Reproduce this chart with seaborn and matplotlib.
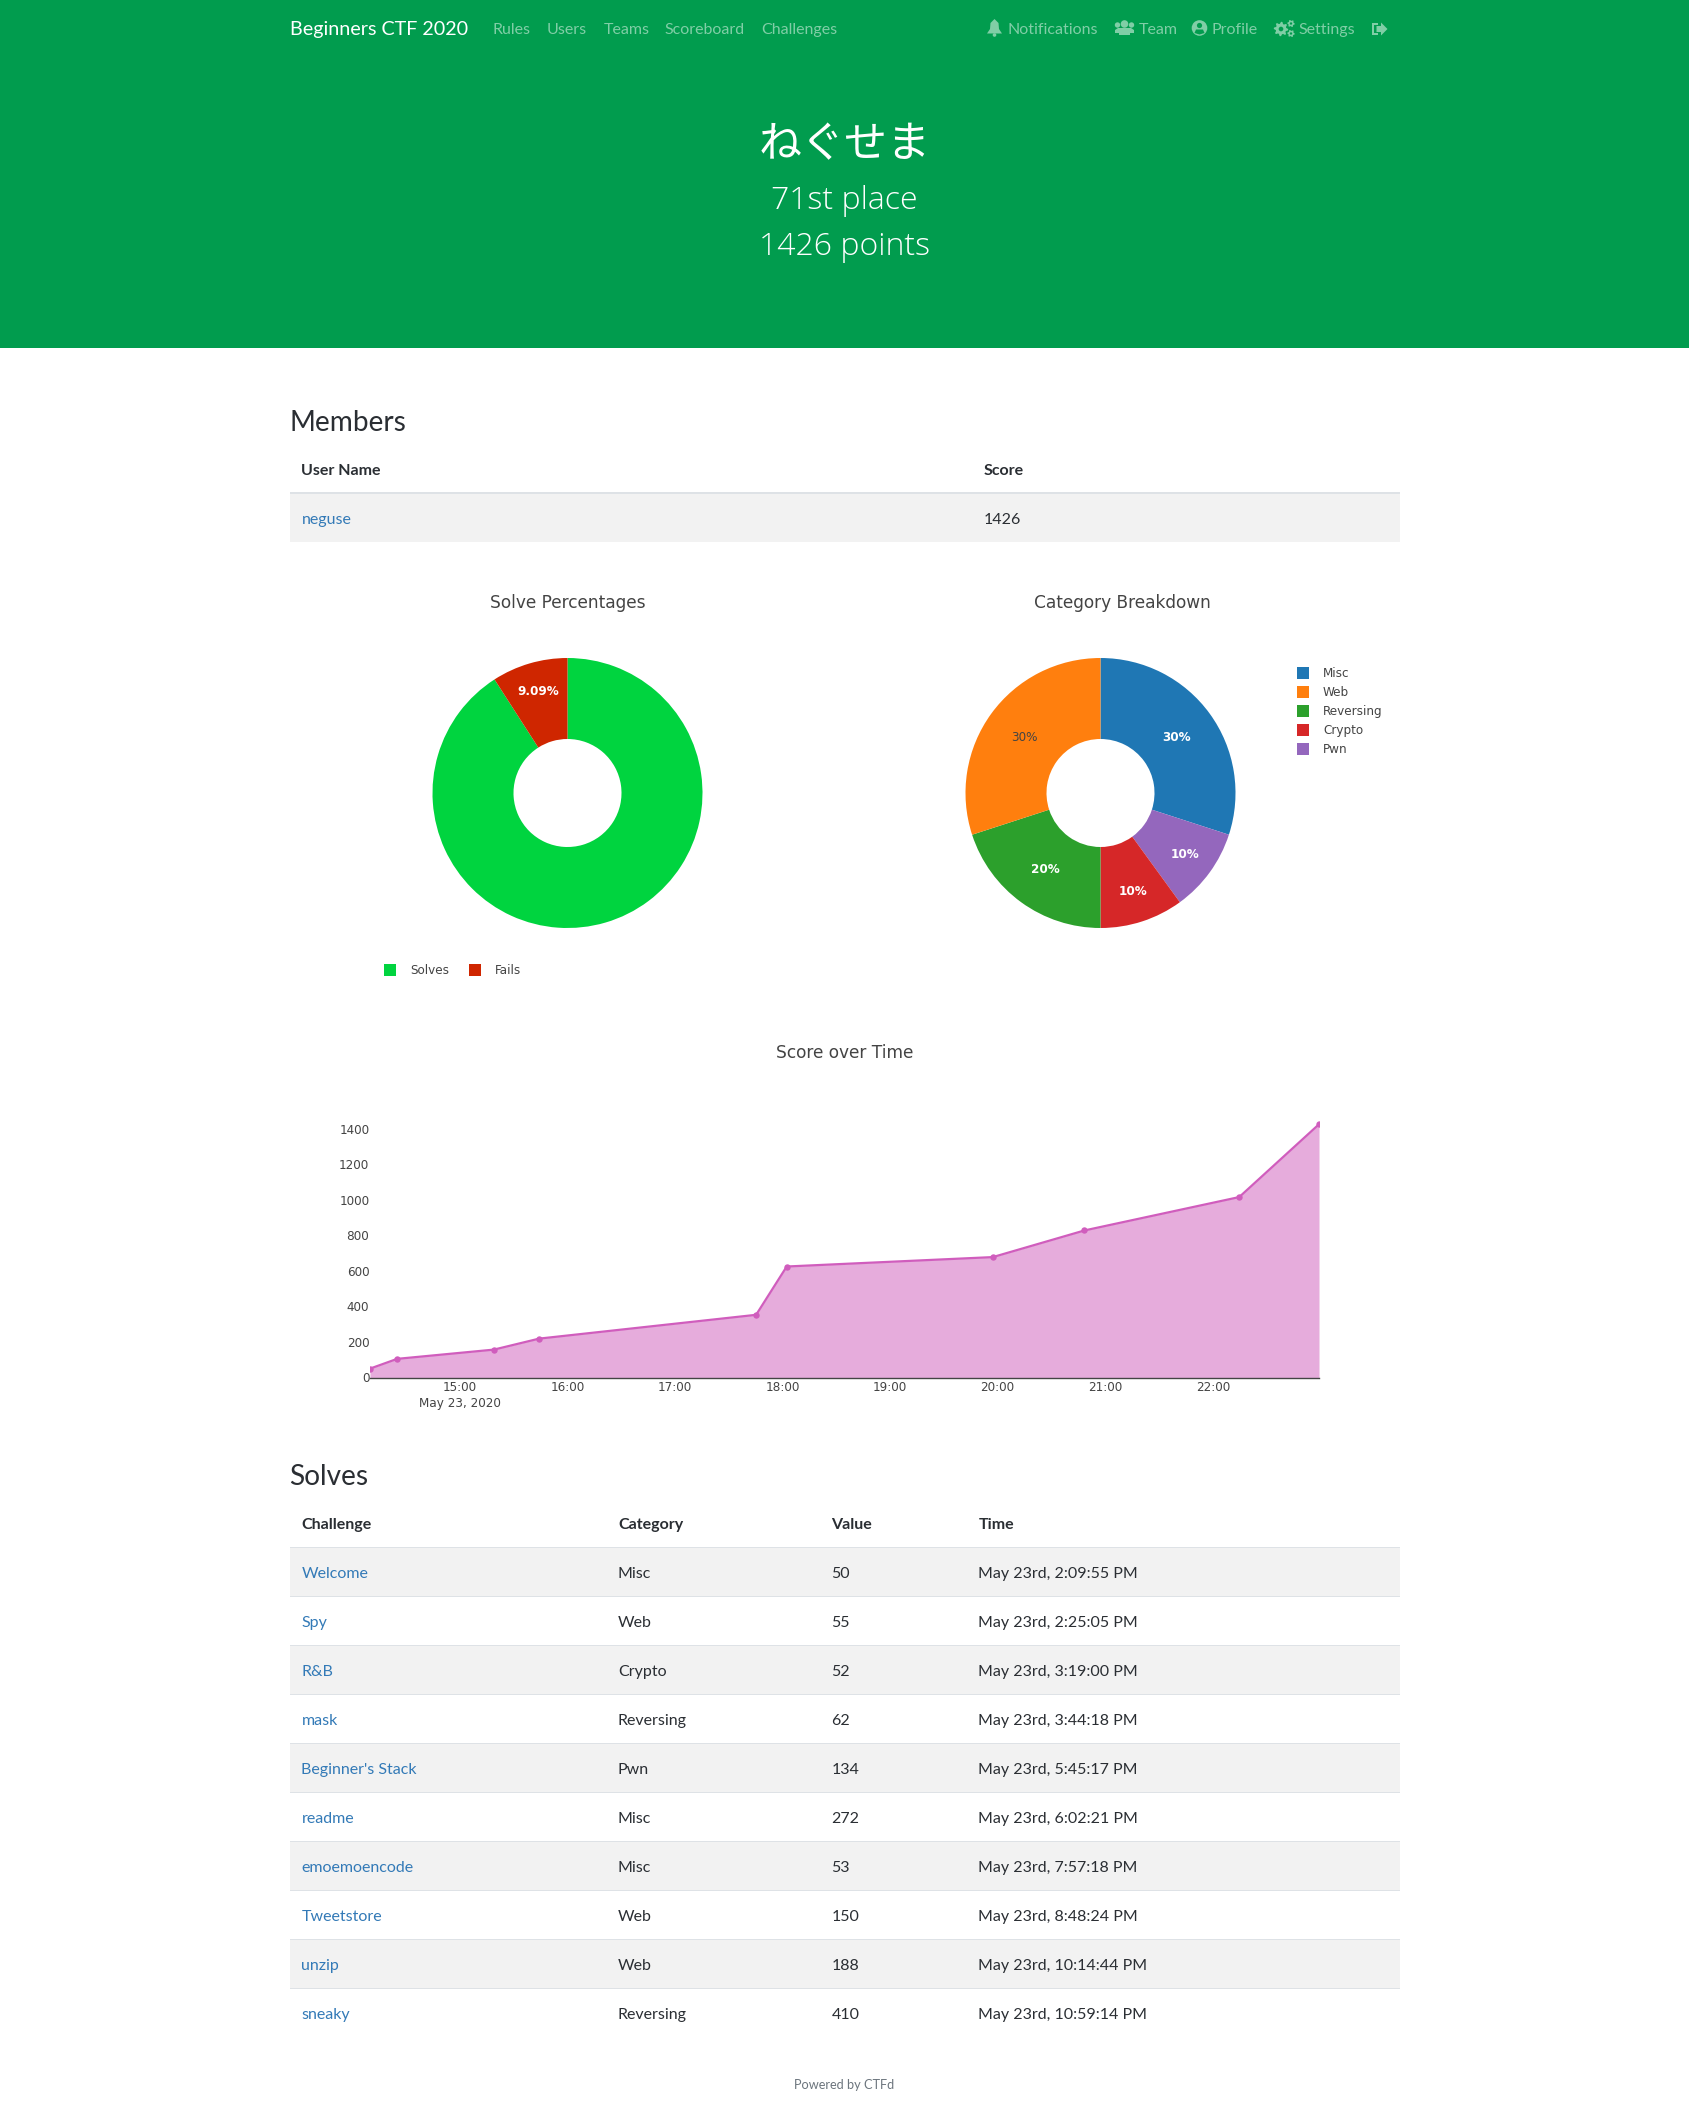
import matplotlib.dates as mdates
import matplotlib.pyplot as plt
import numpy as np
import pandas as pd
import seaborn as sns
from matplotlib.patches import Circle, Polygon, Rectangle

W, H = 1689, 2113

# page text
nav_left = ["Rules", "Users", "Teams", "Scoreboard", "Challenges"]
nav_right = ["Notifications", "Team", "Profile", "Settings"]
team_name = "ねぐせま"
team_place = "71st place"
team_points = "1426 points"

# members table
member_names = ["neguse"]
member_scores = [1426]

# solve percentages pie
solve_labels = ["Solves", "Fails"]
solve_counts = [10, 1]
solve_colors = ["#00d43f", "#cf2600"]

# category pie, slices clockwise from the top
category_legend = ["Misc", "Web", "Reversing", "Crypto", "Pwn"]
category_slices = ["Misc", "Pwn", "Crypto", "Reversing", "Web"]
category_counts = [3, 1, 1, 2, 3]

# solves table
challenges = ["Welcome", "Spy", "R&B", "mask", "Beginner's Stack", "readme",
              "emoemoencode", "Tweetstore", "unzip", "sneaky"]
categories = ["Misc", "Web", "Crypto", "Reversing", "Pwn", "Misc", "Misc",
              "Web", "Web", "Reversing"]
values = [50, 55, 52, 62, 134, 272, 53, 150, 188, 410]
times = ["14:09:55", "14:25:05", "15:19:00", "15:44:18", "17:45:17",
         "18:02:21", "19:57:18", "20:48:24", "22:14:44", "22:59:14"]
time_labels = ["May 23rd, 2:09:55 PM", "May 23rd, 2:25:05 PM", "May 23rd, 3:19:00 PM",
               "May 23rd, 3:44:18 PM", "May 23rd, 5:45:17 PM", "May 23rd, 6:02:21 PM",
               "May 23rd, 7:57:18 PM", "May 23rd, 8:48:24 PM", "May 23rd, 10:14:44 PM",
               "May 23rd, 10:59:14 PM"]
score_ticks = [0, 200, 400, 600, 800, 1000, 1200, 1400]

GREEN = "#019c4e"
NAV = "#80cea6"
DARK = "#2a2e33"
LINK = "#337ab7"
STRIPE = "#f2f2f2"
BORDER = "#dee2e6"
PLOT_TEXT = "#444444"

sns.set_theme(style="white")
plt.rcParams["font.family"] = ["Lato", "Noto Sans CJK JP", "DejaVu Sans"]
tab10 = sns.color_palette("tab10")
cat_colors = dict(zip(["Misc", "Web", "Reversing", "Crypto", "Pwn"], tab10))

fig = plt.figure(figsize=(W / 100, H / 100), dpi=100, facecolor="white")
page = fig.add_axes([0, 0, 1, 1], zorder=0)
page.set_xlim(0, W)
page.set_ylim(H, 0)
page.axis("off")


def label(x, y, s, px=16, color=DARK, ha="left", **kw):
    # y is the middle of the x-height row, sizes are css pixels
    page.text(x, y + 0.36 * px, s, fontsize=px * 0.72, color=color, ha=ha,
              va="baseline", **kw)


def box(x0, y0, x1, y1, color):
    page.add_patch(Rectangle((x0, y0), x1 - x0, y1 - y0, color=color, lw=0))


def sub_axes(x0, y0, x1, y1):
    ax = fig.add_axes([x0 / W, 1 - y1 / H, (x1 - x0) / W, (y1 - y0) / H], zorder=2)
    ax.patch.set_alpha(0)
    return ax


def table(top, columns, headers, rows):
    for x, name in zip(columns, headers):
        label(x, top - 24, name, weight="bold")
    for i, row in enumerate(rows):
        y0 = top + i * 49
        if i % 2 == 0:
            box(290, y0, 1400, y0 + 49, STRIPE)
        box(290, y0 - 0.6, 1400, y0 + 0.6, BORDER)
        for j, (x, cell) in enumerate(zip(columns, row)):
            label(x, y0 + 25, str(cell), color=LINK if j == 0 else DARK)


def donut(cx, cy, counts, colors, label_radius, label_colors, fmt):
    r = 135
    ax = sub_axes(cx - r, cy - r, cx + r, cy + r)
    wedges, _, pcts = ax.pie(counts, colors=colors, startangle=90, counterclock=False,
                             radius=1, autopct=fmt, wedgeprops={"width": 0.6, "lw": 0},
                             textprops={"fontsize": 12 * 0.72, "family": "DejaVu Sans"})
    ax.set_xlim(-1, 1)
    ax.set_ylim(-1, 1)
    for wedge, txt, rad, col in zip(wedges, pcts, label_radius, label_colors):
        mid = np.deg2rad((wedge.theta1 + wedge.theta2) / 2)
        txt.set_position((rad * np.cos(mid), rad * np.sin(mid)))
        txt.set_color(col)
        txt.set_weight("bold" if col == "white" else "normal")
    return ax


def gear(cx, cy, r, teeth):
    # toothed outline with a punched hole, stands in for the icon font
    ang = np.linspace(0, 2 * np.pi, teeth * 4, endpoint=False)
    rad = np.where(np.arange(teeth * 4) % 4 < 2, r, r * 0.74)
    page.add_patch(Polygon(np.c_[cx + rad * np.cos(ang), cy + rad * np.sin(ang)], color=NAV, lw=0))
    page.add_patch(Circle((cx, cy), r * 0.32, color=GREEN, lw=0))


# header band
box(0, 0, W, 348, GREEN)
label(290, 28, "Beginners CTF 2020", px=19.8, color="white")
for x, s in zip([493, 547, 603.5, 664, 761], nav_left):
    label(x, 28, s, color=NAV)
for x, s in zip([1008, 1139, 1212, 1298], nav_right):
    label(x, 28, s, color=NAV)

# nav icons, no icon font in the sandbox so these are rough shapes
page.add_patch(Polygon([(987, 33.5), (990, 29), (990.5, 23), (993, 20.5), (994.5, 19), (996, 20.5),
                        (998.5, 23), (999, 29), (1002, 33.5)], color=NAV, lw=0))
page.add_patch(Circle((994.5, 35), 1.8, color=NAV, lw=0))
for dx, cy, rad in [(-7, 25, 2.7), (7, 25, 2.7), (0, 24, 3.8)]:
    page.add_patch(Circle((1124.5 + dx, cy), rad, color=NAV, lw=0))
page.add_patch(Polygon([(1115, 33), (1115, 30), (1118, 28), (1131, 28), (1134, 30), (1134, 33)],
                       color=NAV, lw=0))
page.add_patch(Polygon([(1119, 35), (1119, 31), (1122, 28.5), (1127, 28.5), (1130, 31), (1130, 35)],
                       color=NAV, lw=0))
page.add_patch(Circle((1199.5, 28), 7.8, color=NAV, lw=0))
page.add_patch(Circle((1199.5, 25.5), 2.6, color=GREEN, lw=0))
page.add_patch(Polygon([(1194.5, 33), (1196, 29.5), (1203, 29.5), (1204.5, 33), (1199.5, 34.5)],
                       color=GREEN, lw=0))
gear(1281, 29, 7.2, 8)
gear(1291, 23.5, 3.7, 6)
gear(1291, 33.5, 3.7, 6)
box(1372, 23, 1378, 35, NAV)
box(1374.5, 25, 1379, 33, GREEN)
page.add_patch(Polygon([(1376.5, 26), (1381, 26), (1381, 22.5), (1387.5, 29), (1381, 35.5), (1381, 32),
                        (1376.5, 32)], color=NAV, lw=0))

label(844.5, 142, team_name, px=43, color="white", ha="center")
label(844.5, 197, team_place, px=32, color="white", ha="center", family="Open Sans", weight="light")
label(844.5, 243, team_points, px=32, color="white", ha="center", family="Open Sans", weight="light")

# members
label(289.5, 421, "Members", px=28)
table(493, [301.5, 984], ["User Name", "Score"], list(zip(member_names, member_scores)))

# pies
plot_title = {"family": "DejaVu Sans", "px": 17, "color": PLOT_TEXT, "ha": "center"}
label(567.5, 602, "Solve Percentages", **plot_title)
label(1122, 602, "Category Breakdown", **plot_title)

donut(567.5, 793, solve_counts, solve_colors, [0.0, 0.78], ["#00d43f", "white"],
      lambda p: f"{p:.2f}%" if p < 50 else "")
donut(1100.5, 793, category_counts, [cat_colors[c] for c in category_slices],
      [0.70, 0.77, 0.77, 0.70, 0.70], ["white", "white", "white", "white", PLOT_TEXT],
      lambda p: f"{p:.0f}%")

legend_text = {"family": "DejaVu Sans", "px": 12, "color": PLOT_TEXT}
for x, s, col in zip([384, 469], solve_labels, solve_colors):
    box(x, 963.5, x + 12, 975.5, col)
    label(x + 26, 969.5, s, **legend_text)
for y, s in zip([673, 692, 711, 730, 749], category_legend):
    box(1297.5, y - 6, 1309.5, y + 6, cat_colors[s])
    label(1323, y, s, **legend_text)

# score over time
label(845, 1052, "Score over Time", **plot_title)
solved_at = pd.to_datetime(["2020-05-23 " + t for t in times])
scores = np.cumsum(values)

ax = sub_axes(370, 1120, 1319, 1377.5)
ax.fill_between(solved_at, scores, color="#e6acdc", lw=0)
sns.lineplot(x=solved_at, y=scores, ax=ax, color="#d05dbd", linewidth=1.6, marker="o",
             markersize=4.6, markeredgewidth=0)
ax.set_xlim(solved_at[0], solved_at[-1])
ax.set_ylim(0, 1450)
ax.set_yticks(score_ticks)
ax.xaxis.set_major_locator(mdates.HourLocator())
ax.xaxis.set_major_formatter(mdates.DateFormatter("%H:%M"))
ax.set_xlabel("")
ax.set_ylabel("")
ax.tick_params(axis="y", length=0, labelsize=12 * 0.72, labelcolor=PLOT_TEXT, pad=0.5)
ax.tick_params(axis="x", length=0, labelsize=12 * 0.72, labelcolor=PLOT_TEXT, pad=2.5)
for tick in ax.get_xticklabels() + ax.get_yticklabels():
    tick.set_family("DejaVu Sans")
sns.despine(ax=ax, left=True)
ax.spines["bottom"].set_color(PLOT_TEXT)
ax.spines["bottom"].set_linewidth(1)
label(459.5, 1403, "May 23, 2020", family="DejaVu Sans", px=12, color=PLOT_TEXT, ha="center")

# solves
label(289.5, 1475, "Solves", px=28)
table(1547.5, [301.5, 618, 831.5, 978.5], ["Challenge", "Category", "Value", "Time"],
      list(zip(challenges, categories, values, time_labels)))

label(844.5, 2084, "Powered by CTFd", px=12.8, color="#6c757d", ha="center")

fig.savefig("out.png", dpi=100)
